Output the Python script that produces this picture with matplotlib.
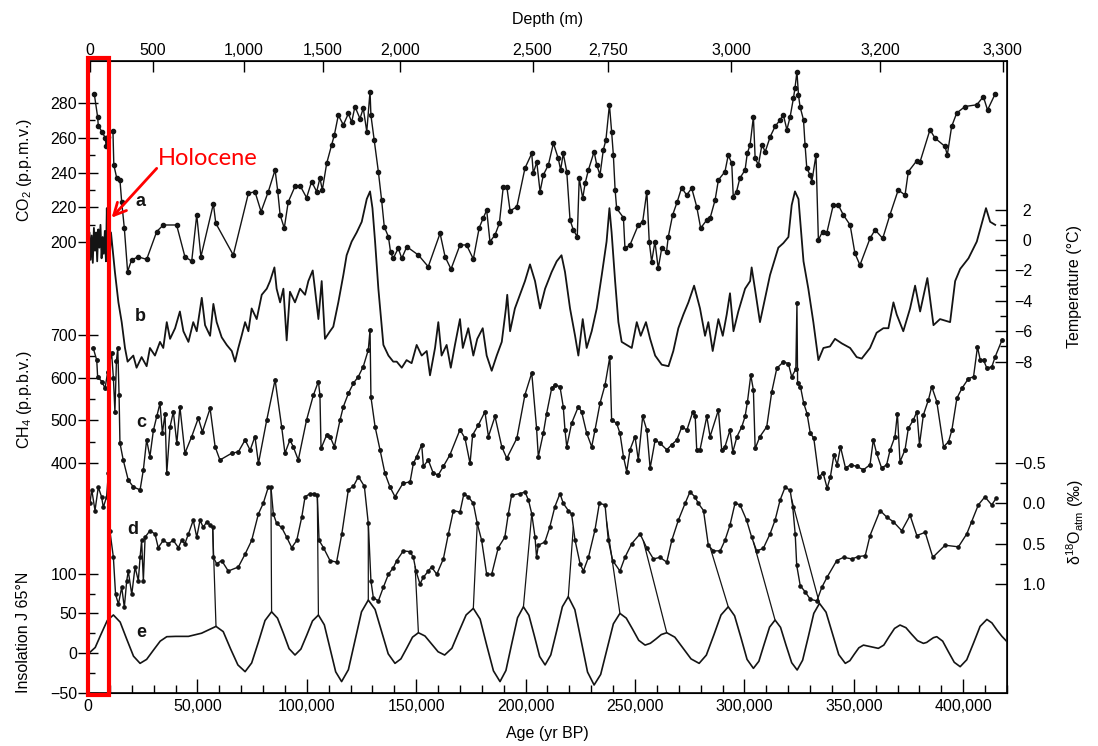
import matplotlib.pyplot as plt
import numpy as np
import matplotlib.transforms as mtransforms
from matplotlib.patches import Rectangle, ConnectionPatch
from matplotlib.ticker import FixedLocator, MultipleLocator, FuncFormatter

plt.rcParams['font.family'] = ['Liberation Sans', 'DejaVu Sans']
plt.rcParams['mathtext.fontset'] = 'custom'
plt.rcParams['mathtext.rm'] = 'Liberation Sans'
plt.rcParams['mathtext.it'] = 'Liberation Sans:italic'

# ############################ DATA ############################
# (age in kyr BP, value)

# a: CO2 (p.p.m.v.)
co2 = np.array([
    (2.9, 285), (4.4, 272), (4.7, 267), (6.3, 263.6), (7.9, 260), (8.3, 255), (9.0, 260.7),
    (11.4, 264), (11.8, 244.4), (13.1, 237), (14.6, 235.7), (15.4, 223), (16.6, 208),
    (18.1, 183), (19.9, 189.6), (22.9, 191.5), (26.8, 190), (31.4, 206), (34.4, 209.8),
    (40.5, 209.8), (44.3, 191.5), (47.4, 189), (49.7, 215.6), (51.6, 191.5), (57.3, 222),
    (58.4, 210.8), (66.4, 192.5), (73.3, 228), (76.3, 229), (79.1, 217.5), (82.4, 229),
    (85.5, 241.5), (86.7, 229.4), (87.8, 215.6), (89.7, 208), (91.5, 223), (94.6, 232),
    (96.9, 232.5), (99.9, 225.5), (102.2, 234.8), (104.5, 229), (106.0, 236.7), (107.1, 230),
    (109.1, 245.4), (111.4, 256), (112.6, 261.7), (114.4, 273), (116.7, 267.4), (119.0, 274),
    (120.5, 269), (122.0, 278), (124.3, 271), (125.8, 277), (127.4, 263.6), (128.9, 286.6),
    (129.3, 273), (130.8, 258.8), (132.7, 240.5), (134.2, 224), (135.4, 208.8), (137.3, 203),
    (138.3, 194), (139.5, 190.6), (141.8, 196.4), (143.4, 190.6), (145.7, 197.3), (151.0, 192.5),
    (155.5, 185.8), (160.9, 205), (163.2, 191.5), (165.9, 184.4), (170.0, 198.3), (173.0, 198.3),
    (176.1, 190.2), (178.8, 208.3), (180.6, 213.6), (182.2, 218.4), (183.7, 200.2), (186.0, 204),
    (188.0, 210.8), (189.8, 231.9), (191.4, 231.9), (192.9, 217.9), (196.0, 220.3), (199.7, 242.5),
    (202.8, 251), (203.5, 239.6), (205.1, 246), (206.6, 229), (208.1, 238.6), (210.4, 244.4),
    (212.7, 256.9), (214.9, 248.2), (216.0, 241.5), (217.2, 251), (218.8, 240.5), (220.3, 212.7),
    (221.8, 207), (223.6, 203), (224.5, 236.7), (226.1, 225.2), (227.2, 233.8), (228.7, 241.5),
    (231.3, 252), (232.5, 244.4), (234.0, 238.6), (235.5, 253), (236.7, 258.8), (238.3, 279),
    (239.3, 263.6), (240.1, 250), (240.9, 230), (241.6, 219.4), (244.7, 214), (245.4, 196.4),
    (247.7, 198.3), (251.5, 209.8), (253.5, 211.7), (255.4, 229), (256.5, 200.2), (257.6, 188.6),
    (259.1, 200.2), (260.6, 184.8), (262.2, 196.4), (264.4, 194.4), (265.2, 203), (267.2, 215.6),
    (269.3, 223.2), (271.3, 231.3), (273.6, 227), (275.9, 231), (278.2, 220.3), (280.0, 208),
    (282.8, 212.7), (284.3, 213.7), (286.6, 224.2), (288.1, 235.7), (291.1, 240.5), (292.6, 250),
    (294.2, 245.4), (294.9, 226), (296.4, 229), (297.9, 236.7), (300.3, 241.5), (301.3, 251),
    (302.6, 256), (304.1, 272.2), (304.9, 248.2), (306.4, 244.4), (308.0, 256), (309.5, 252),
    (311.8, 260.7), (314.0, 266.5), (316.3, 270.3), (317.8, 273.2), (319.4, 264.6), (320.9, 272.2),
    (322.4, 282.8), (323.1, 288.6), (324.0, 298), (324.7, 284.7), (325.4, 278), (327.0, 270.3),
    (327.7, 256), (328.5, 242.5), (330.0, 238.6), (330.8, 234.8), (332.7, 250), (333.8, 201.2),
    (335.7, 206), (337.6, 205), (340.6, 221.3), (342.9, 221.3), (345.2, 215.6), (348.3, 209.8),
    (350.5, 193.5), (352.8, 186.7), (357.4, 202.1), (359.7, 207), (363.2, 202.1), (366.5, 215.6),
    (370.3, 230), (373.4, 227), (374.9, 240.5), (378.7, 246.7), (380.3, 246.3), (384.8, 264.6),
    (387.1, 259.8), (391.7, 255), (392.7, 250), (394.7, 266.5), (397.0, 274.2), (400.8, 278),
    (406.2, 279), (409.2, 283.7), (411.1, 276), (414.5, 285),
])

# b: temperature (deg C)
temperature = np.array([
    (0.2, -0.9), (0.7, 0.5), (1.2, -1.3), (1.7, 0.3), (2.2, -1.5), (2.7, 0.8), (3.2, -0.7),
    (3.7, 0.5), (4.2, -1.4), (4.7, 0.7), (5.2, -0.5), (5.7, 1.0), (6.2, -1.2), (6.7, 0.2),
    (7.2, -0.9), (7.7, 0.6), (8.2, -1.4), (8.6, 2.1), (9.0, -1.1), (9.5, 0.3), (10.0, -1.0),
    (10.5, 0.5), (12.3, -2.1), (13.9, -4.1), (15.4, -5.4), (16.9, -7.1), (18.1, -8.0),
    (20.7, -7.6), (22.2, -8.4), (24.5, -7.7), (26.8, -8.3), (28.3, -7.1), (30.6, -7.6),
    (32.9, -6.7), (34.4, -7.1), (36.0, -5.4), (37.5, -6.5), (39.8, -5.8), (42.0, -4.7),
    (43.6, -6.0), (45.9, -6.7), (48.1, -5.4), (49.7, -6.0), (52.0, -3.8), (53.5, -5.6),
    (55.8, -6.3), (57.3, -4.2), (58.8, -5.4), (61.1, -6.4), (63.4, -6.9), (65.7, -7.3),
    (67.2, -8.0), (68.7, -7.1), (70.2, -6.3), (71.8, -5.4), (73.3, -6.0), (74.8, -4.5),
    (77.1, -5.2), (79.4, -3.6), (81.7, -3.2), (83.2, -2.7), (85.2, -1.8), (86.2, -3.2),
    (87.8, -4.1), (89.3, -3.2), (90.8, -6.6), (92.3, -3.4), (94.6, -4.1), (96.9, -3.2),
    (99.2, -3.6), (100.7, -2.7), (102.7, -2.0), (103.7, -3.2), (105.3, -5.2), (106.8, -2.7),
    (108.3, -6.5), (110.6, -6.0), (112.1, -5.7), (114.4, -4.1), (116.7, -2.3), (118.2, -1.0),
    (120.5, -0.1), (122.8, 0.5), (125.1, 1.2), (127.4, 2.7), (128.9, 3.2), (130.0, 2.1),
    (131.2, -0.1), (132.7, -3.2), (135.0, -6.9), (137.3, -7.6), (139.5, -8.0), (141.1, -8.0),
    (143.4, -8.4), (145.6, -7.9), (147.9, -8.1), (150.2, -6.9), (152.5, -7.6), (154.8, -7.3),
    (156.3, -8.9), (158.6, -7.1), (160.1, -5.4), (161.6, -7.6), (163.9, -6.9), (165.8, -8.4),
    (167.7, -6.9), (170.0, -5.2), (171.3, -7.1), (173.8, -5.8), (176.1, -7.6), (177.9, -6.5),
    (180.4, -5.8), (182.2, -7.6), (184.5, -8.6), (186.8, -7.6), (189.1, -6.7), (191.0, -4.5),
    (191.6, -3.6), (192.9, -6.0), (195.1, -4.5), (197.4, -3.6), (199.7, -2.7), (202.0, -1.6),
    (204.3, -2.7), (206.6, -4.5), (208.9, -3.2), (211.9, -2.1), (214.2, -1.4), (216.4, -1.0),
    (218.0, -2.1), (220.3, -4.5), (222.6, -6.3), (224.1, -7.6), (226.1, -5.2), (227.9, -7.1),
    (230.2, -6.0), (232.5, -4.5), (234.8, -2.3), (237.0, -0.1), (238.3, 2.1), (239.3, 0.5),
    (240.9, -2.7), (242.4, -5.4), (243.9, -6.7), (246.2, -6.9), (248.5, -7.1), (250.8, -5.4),
    (252.6, -6.3), (255.0, -5.4), (256.9, -6.5), (259.2, -7.6), (262.2, -8.2), (265.3, -8.3),
    (267.5, -7.3), (269.8, -5.8), (272.1, -4.9), (274.4, -4.1), (277.0, -3.0), (279.7, -4.5),
    (282.0, -6.3), (283.5, -5.4), (285.5, -7.3), (288.1, -5.2), (290.1, -6.3), (291.9, -4.9),
    (293.4, -3.5), (295.0, -6.0), (297.2, -4.7), (300.3, -3.2), (302.6, -2.7), (303.3, -1.8),
    (304.8, -3.2), (307.1, -5.4), (311.7, -2.3), (315.5, -0.5), (317.8, -0.2), (320.1, 0.2),
    (321.6, 2.3), (323.1, 3.2), (324.7, 2.7), (327.0, -1.4), (329.2, -3.2), (331.5, -5.4),
    (333.8, -7.9), (336.1, -7.1), (339.1, -7.0), (341.4, -6.5), (344.5, -6.8), (348.3, -7.1),
    (351.3, -7.7), (353.6, -7.8), (357.4, -7.1), (360.4, -6.1), (363.5, -5.8), (365.8, -5.8),
    (368.1, -4.1), (369.6, -4.9), (372.6, -6.0), (375.7, -4.5), (378.0, -3.0), (380.3, -4.7),
    (383.6, -2.5), (386.4, -5.6), (389.4, -5.2), (394.0, -5.4), (396.3, -2.7), (398.6, -1.9),
    (402.4, -1.2), (406.2, -0.1), (410.4, 2.1), (412.3, 1.2), (414.6, 1.0),
])

# c: CH4 (p.p.b.v.)
ch4 = np.array([
    (2.4, 669), (4.0, 641), (4.4, 602), (6.3, 591), (7.8, 575), (9.0, 614), (10.8, 657),
    (11.6, 600), (12.3, 520), (13.0, 640), (13.6, 669), (14.2, 560), (14.6, 447), (16.1, 407),
    (18.4, 360), (20.7, 344), (23.8, 337), (25.3, 384), (26.8, 454), (28.3, 415), (29.9, 477),
    (31.4, 509), (32.9, 540), (34.0, 470), (35.2, 516), (36.0, 376), (37.5, 485), (39.0, 520),
    (40.6, 446), (42.0, 532), (44.3, 423), (47.4, 462), (50.4, 505), (52.3, 473), (55.8, 528),
    (58.1, 438), (60.3, 407), (65.7, 423), (68.7, 426), (71.8, 454), (74.1, 430), (76.3, 462),
    (77.9, 399), (81.7, 501), (85.5, 595), (88.5, 485), (90.0, 423), (92.3, 454), (93.8, 438),
    (96.1, 407), (99.9, 501), (103.0, 559), (105.3, 591), (106.0, 559), (106.5, 434),
    (109.1, 466), (110.6, 462), (112.6, 438), (115.2, 501), (116.7, 532), (119.0, 563),
    (121.3, 587), (123.5, 602), (125.8, 626), (128.1, 665), (128.9, 712), (129.3, 555),
    (131.2, 485), (133.5, 430), (135.7, 376), (138.0, 344), (140.3, 321), (143.9, 352),
    (147.2, 356), (148.7, 399), (150.2, 415), (152.5, 443), (153.3, 392), (155.5, 407),
    (157.8, 376), (160.1, 372), (162.4, 392), (165.4, 419), (170.0, 478), (172.3, 458),
    (174.6, 399), (175.8, 466), (178.4, 489), (181.4, 520), (183.0, 462), (186.0, 509),
    (189.1, 438), (191.4, 411), (196.0, 458), (199.7, 560), (202.8, 611), (205.0, 482),
    (205.8, 415), (208.1, 470), (209.6, 516), (211.9, 575), (213.4, 583), (215.7, 579),
    (217.2, 532), (218.0, 477), (218.8, 438), (221.0, 493), (224.1, 532), (225.6, 520),
    (227.9, 470), (230.2, 438), (231.7, 477), (234.0, 540), (236.3, 583), (238.5, 649),
    (239.3, 501), (241.6, 493), (243.1, 470), (244.7, 415), (246.2, 380), (247.7, 431),
    (250.0, 462), (251.5, 407), (253.5, 509), (255.4, 477), (256.9, 388), (259.2, 454),
    (261.5, 446), (264.5, 431), (266.8, 443), (269.1, 454), (271.4, 485), (273.7, 477),
    (276.4, 520), (277.5, 509), (278.2, 431), (279.7, 431), (282.8, 509), (284.3, 462),
    (288.1, 524), (289.6, 431), (291.1, 438), (293.4, 477), (294.7, 426), (296.6, 462),
    (298.8, 485), (300.3, 509), (301.4, 544), (302.9, 606), (304.1, 571), (304.9, 434),
    (307.1, 462), (310.2, 485), (312.5, 567), (314.8, 622), (317.8, 637), (320.1, 633),
    (321.6, 602), (323.5, 620), (324.0, 774), (324.3, 587), (325.6, 579), (327.1, 540),
    (328.6, 516), (330.1, 470), (331.7, 458), (334.0, 368), (336.0, 376), (337.8, 341),
    (339.3, 368), (340.9, 419), (342.4, 396), (343.9, 438), (346.2, 388), (348.5, 396),
    (351.3, 392), (354.4, 384), (357.4, 396), (358.9, 454), (360.4, 423), (362.7, 388),
    (365.0, 396), (366.6, 431), (368.8, 462), (369.9, 516), (371.1, 403), (373.4, 431),
    (374.9, 481), (377.2, 501), (378.8, 520), (380.0, 443), (381.8, 513), (384.1, 548),
    (385.6, 579), (387.9, 544), (391.0, 438), (393.3, 450), (394.8, 477), (397.1, 552),
    (399.4, 575), (402.4, 598), (404.7, 602), (406.5, 672), (407.8, 641), (409.3, 641),
    (410.8, 622), (413.1, 626), (414.6, 649), (417.7, 688),
])

# d: delta 18O of atmospheric O2 (per mil)
d18o = np.array([
    (0.9, 0.0), (1.7, -0.17), (3.2, 0.09), (4.7, -0.2), (6.2, -0.08), (7.0, 0.05), (8.5, -0.08),
    (9.3, -0.37), (10.0, 0.34), (11.6, 0.67), (12.6, 1.13), (13.9, 1.25), (15.4, 1.04),
    (16.6, 1.29), (17.7, 0.96), (18.4, 0.84), (20.0, 1.13), (21.5, 0.79), (23.0, 0.96),
    (23.8, 0.67), (24.5, 0.46), (25.3, 0.96), (26.1, 0.42), (28.3, 0.34), (30.6, 0.38),
    (32.1, 0.55), (34.4, 0.46), (36.7, 0.5), (39.0, 0.46), (41.3, 0.55), (42.8, 0.46),
    (44.3, 0.5), (45.9, 0.38), (48.1, 0.21), (49.7, 0.42), (51.2, 0.21), (52.7, 0.3),
    (54.2, 0.23), (55.8, 0.27), (57.0, 0.3), (57.3, 0.67), (58.8, 0.75), (61.1, 0.71),
    (64.1, 0.84), (68.7, 0.79), (71.8, 0.63), (74.8, 0.46), (77.9, 0.13), (80.1, 0.0),
    (82.4, -0.2), (83.6, -0.2), (84.7, 0.13), (86.2, 0.25), (88.5, 0.3), (90.8, 0.42),
    (93.1, 0.55), (95.4, 0.46), (97.7, 0.17), (99.2, -0.08), (101.5, -0.12), (103.4, -0.12),
    (104.8, -0.1), (105.6, 0.46), (107.6, 0.55), (110.6, 0.71), (113.6, 0.73), (116.0, 0.38),
    (119.0, -0.17), (121.3, -0.21), (123.6, -0.33), (126.3, -0.21), (128.1, 0.25), (129.3, 0.96),
    (130.4, 1.17), (132.7, 1.21), (135.0, 1.04), (137.3, 0.88), (139.5, 0.8), (141.1, 0.71),
    (144.1, 0.59), (147.2, 0.6), (148.7, 0.67), (149.9, 0.84), (151.7, 1.0), (153.2, 0.92),
    (155.5, 0.84), (157.0, 0.79), (159.4, 0.88), (162.4, 0.69), (164.7, 0.38), (167.0, 0.09),
    (170.0, 0.11), (171.8, -0.12), (173.8, -0.08), (176.1, 0.0), (177.9, 0.25), (179.9, 0.46),
    (182.2, 0.88), (184.5, 0.88), (187.5, 0.55), (190.5, 0.42), (192.1, 0.13), (193.6, -0.1),
    (197.4, -0.12), (199.7, -0.14), (201.3, -0.04), (202.8, 0.13), (204.3, 0.42), (205.0, 0.67),
    (205.8, 0.52), (208.8, 0.48), (211.1, 0.29), (213.4, 0.04), (215.7, -0.12), (217.2, 0.0),
    (219.5, 0.09), (221.0, 0.13), (222.6, 0.46), (224.9, 0.75), (226.4, 0.84), (228.7, 0.67),
    (231.7, 0.33), (233.7, 0.0), (236.3, 0.02), (237.8, 0.46), (239.8, 0.71), (243.1, 0.84),
    (245.4, 0.67), (248.5, 0.5), (252.3, 0.38), (255.3, 0.55), (258.4, 0.69), (261.4, 0.67),
    (264.5, 0.73), (266.8, 0.46), (269.8, 0.21), (272.9, 0.0), (275.1, -0.14), (277.4, -0.08),
    (278.9, 0.0), (281.3, 0.09), (283.5, 0.52), (285.8, 0.59), (288.9, 0.59), (291.1, 0.46),
    (293.4, 0.27), (295.7, 0.0), (298.0, 0.02), (301.0, 0.21), (303.3, 0.42), (305.6, 0.59),
    (308.6, 0.56), (311.7, 0.38), (314.0, 0.21), (316.3, -0.04), (318.6, -0.2), (320.9, -0.16),
    (322.1, 0.05), (323.2, 0.38), (323.9, 0.77), (325.5, 1.02), (327.8, 1.1), (330.1, 1.19),
    (333.1, 1.21), (335.4, 1.04), (337.7, 0.92), (342.2, 0.71), (345.3, 0.67), (349.1, 0.69),
    (352.1, 0.66), (355.2, 0.65), (357.4, 0.40), (362.0, 0.09), (365.0, 0.17), (368.1, 0.23),
    (371.9, 0.34), (375.7, 0.15), (378.8, 0.40), (382.6, 0.36), (386.1, 0.67), (391.7, 0.52),
    (397.8, 0.54), (401.6, 0.38), (403.8, 0.23), (406.9, 0.02), (409.9, -0.08), (413.0, 0.02),
    (415.0, -0.06),
])

# e: insolation mid-July 65N (W m-2, anomaly)
insolation = np.array([
    (0.5, 0), (3.3, 7), (6.0, 24), (8.8, 41), (11.6, 48), (14.7, 39), (17.7, 17.5), (20.8, -4),
    (23.8, -13), (26.8, -8), (30.0, 4), (33.0, 15), (36.0, 20.6), (40.0, 21), (45.9, 21),
    (51.9, 25), (55.0, 29), (58.5, 33.6), (61.8, 27), (65.2, 5), (68.5, -15), (71.8, -23.5),
    (74.8, -12.5), (77.9, 14), (80.9, 41), (83.9, 52), (86.6, 44), (89.3, 25), (91.9, 5.5),
    (94.6, -2.5), (97.3, 5), (100.0, 22.7), (102.6, 40.5), (105.3, 47.9), (108.0, 35.6),
    (110.6, 6), (113.2, -23.7), (115.9, -36), (119.0, -21), (122.0, 15.4), (125.0, 52),
    (128.1, 66.8), (131.2, 55), (134.2, 27), (137.2, -1), (140.3, -13), (143.0, -7.4),
    (145.7, 6.3), (148.3, 20), (151.0, 25.6), (154.0, 21.5), (157.0, 11.5), (160.0, 1.6),
    (163.0, -2.5), (166.3, 6), (169.5, 27), (172.8, 48), (176.1, 56.3), (179.2, 42.8),
    (182.2, 10), (185.3, -22.5), (188.3, -36), (191.0, -22), (193.6, 11), (196.3, 44.5),
    (199.0, 58.3), (201.5, 47.6), (204.0, 21.6), (206.4, -4.3), (208.9, -15), (211.5, -2.4),
    (214.2, 28), (216.8, 58.4), (219.5, 71), (222.5, 54.7), (225.4, 15.3), (228.3, -24),
    (231.3, -40.3), (234.3, -27), (237.2, 5), (240.1, 36.8), (243.1, 50), (246.0, 44),
    (248.9, 30), (251.7, 16), (254.6, 10), (257.0, 12.3), (259.6, 17.8), (262.0, 23.3),
    (264.5, 25.6), (268.2, 20), (271.9, 6.3), (275.6, -7.4), (279.3, -13), (282.6, -2.6),
    (286.0, 22.6), (289.3, 48), (292.6, 58.3), (295.5, 47), (298.4, 19.5), (301.2, -8),
    (304.1, -19.3), (306.6, -10.4), (309.0, 11), (311.5, 32.7), (314.0, 41.6), (316.5, 32.4),
    (319.0, 10), (321.6, -12.2), (324.1, -21.4), (326.6, -9), (329.2, 20.6), (331.7, 50),
    (334.3, 62.6), (337.3, 51.5), (340.2, 24.8), (343.1, -2), (346.1, -13), (348.2, -9.6),
    (350.2, -1.5), (352.3, 6.6), (354.4, 10), (357.8, 8), (361.2, 5.9), (363.7, 10),
    (366.1, 20.6), (368.6, 31), (371.1, 35.3), (373.8, 32), (376.4, 23.7), (379.1, 15.6),
    (381.8, 12.2), (383.3, 13.4), (384.8, 16.4), (386.4, 19.4), (387.9, 20.6), (390.6, 15),
    (393.2, 1.7), (395.9, -11.7), (398.6, -17.2), (401.6, -8.5), (404.7, 12.6), (407.7, 33.6),
    (410.8, 42.4), (413.1, 38), (415.4, 29), (417.7, 21), (420.0, 14.3),
])

# tie lines between d18O events and insolation maxima (kyr on d, kyr on e)
link_d18o_age = [57.0, 83.6, 104.8, 128.1, 149.5, 177.9, 202.8, 221.8, 237.0, 253.8, 284.3, 304.1, 321.5]
link_insol_age = [58.5, 83.9, 105.3, 128.1, 151.0, 176.1, 199.0, 219.5, 243.1, 264.5, 292.6, 314.0, 334.3]

# top axis: depth (m) and the age it sits at (kyr)
depth_m = [0, 500, 1000, 1500, 2000, 2500, 2750, 3000, 3200, 3300]
depth_age = [0.7, 29.5, 71.1, 107.2, 142.6, 203.2, 237.7, 293.9, 362.0, 418.0]

# ############################ FIGURE ############################
W, H = 1098, 746
fig = plt.figure(figsize=(W / 100, H / 100), dpi=100)
rect = [88 / W, 1 - 693 / H, 919 / W, 632 / H]
INK = '#141414'
TICK_FS = 11.5

ax = fig.add_axes(rect)
ax.set_xlim(0, 420000)
ax.set_ylim(0, 1)
ax.yaxis.set_visible(False)
for s in ax.spines.values():
    s.set_linewidth(1.2)
ax.xaxis.set_major_locator(MultipleLocator(50000))
ax.xaxis.set_minor_locator(MultipleLocator(10000))
ax.xaxis.set_major_formatter(FuncFormatter(lambda v, p: f'{int(v):,}'))
ax.tick_params(axis='x', which='major', direction='in', length=10, width=1.0, labelsize=TICK_FS, pad=4)
ax.tick_params(axis='x', which='minor', direction='in', length=6, width=1.0)
ax.set_xlabel('Age (yr BP)', fontsize=TICK_FS, labelpad=9)

top = ax.twiny()
top.set_xlim(0, 420000)
top.set_xticks(np.array(depth_age) * 1000)
top.set_xticklabels([f'{d:,}' for d in depth_m])
top.tick_params(axis='x', direction='in', length=8, width=1.0, labelsize=TICK_FS, pad=2)
top.set_xlabel('Depth (m)', fontsize=TICK_FS, labelpad=14)
top.yaxis.set_visible(False)


def series_axes(ylim, side):
    a = fig.add_axes(rect)
    a.set_xlim(0, 420000)
    a.set_ylim(*ylim)
    a.patch.set_visible(False)
    for s in a.spines.values():
        s.set_visible(False)
    a.xaxis.set_visible(False)
    a.yaxis.set_ticks_position(side)
    if side == 'left':
        a.tick_params(axis='y', which='major', direction='inout', length=14, width=1.0,
                      labelsize=TICK_FS, pad=1)
    else:
        a.tick_params(axis='y', which='major', direction='in', length=9, width=1.0,
                      labelsize=TICK_FS, pad=5)
    a.tick_params(axis='y', which='minor', direction='in', length=5, width=1.0)
    return a


def right_label(v, p):
    # digits line up after the minus sign as in the original
    return ('\u2212' if v < 0 else '\u2007') + f'{abs(v):g}'


# ### a: CO2 ###
ax_co2 = series_axes((-59.6, 304.2), 'left')
ax_co2.yaxis.set_major_locator(FixedLocator([200, 220, 240, 260, 280]))
ax_co2.yaxis.set_minor_locator(FixedLocator([210, 230, 250, 270]))
ax_co2.plot(co2[:, 0] * 1000, co2[:, 1], color=INK, lw=1.0, marker='o', ms=3)

# ### b: temperature ###
ax_t = series_axes((-29.8, 11.78), 'right')
ax_t.yaxis.set_major_locator(FixedLocator([2, 0, -2, -4, -6, -8]))
ax_t.yaxis.set_minor_locator(FixedLocator([1, -1, -3, -5, -7]))
ax_t.yaxis.set_major_formatter(FuncFormatter(right_label))
ax_t.plot(temperature[:, 0] * 1000, temperature[:, 1], color=INK, lw=1.3)

# ### c: CH4 ###
ax_ch4 = series_axes((-139.1, 1342.2), 'left')
ax_ch4.yaxis.set_major_locator(FixedLocator([400, 500, 600, 700]))
ax_ch4.yaxis.set_minor_locator(FixedLocator([450, 550, 650]))
ax_ch4.plot(ch4[:, 0] * 1000, ch4[:, 1], color=INK, lw=1.0, marker='o', ms=2.5)

# ### d: d18O atm (inverted) ###
ax_d = series_axes((2.352, -5.483), 'right')
ax_d.yaxis.set_major_locator(FixedLocator([-0.5, 0.0, 0.5, 1.0]))
ax_d.yaxis.set_minor_locator(FixedLocator([-0.25, 0.25, 0.75]))
ax_d.yaxis.set_major_formatter(FuncFormatter(lambda v, p: ('\u2212' if v < 0 else '\u2007') + f'{abs(v):.1f}'))
ax_d.plot(d18o[:, 0] * 1000, d18o[:, 1], color=INK, lw=1.0, marker='o', ms=2.3)

# ### e: insolation ###
ax_e = series_axes((-50.4, 746.6), 'left')
ax_e.yaxis.set_major_locator(FixedLocator([-50, 0, 50, 100]))
ax_e.yaxis.set_minor_locator(FixedLocator([-25, 25, 75]))
ax_e.plot(insolation[:, 0] * 1000, insolation[:, 1], color=INK, lw=1.2)

# tie lines d -> e
for da, ea in zip(link_d18o_age, link_insol_age):
    dv = np.interp(da, d18o[:, 0], d18o[:, 1])
    ev = np.interp(ea, insolation[:, 0], insolation[:, 1])
    con = ConnectionPatch(xyA=(da * 1000, dv), coordsA=ax_d.transData,
                          xyB=(ea * 1000, ev), coordsB=ax_e.transData,
                          color=INK, lw=0.9)
    fig.add_artist(con)

# curve letters
bold = dict(fontsize=13, fontweight='bold', ha='center', va='center', color=INK)
ax_co2.text(24200, 223.6, 'a', **bold)
ax_t.text(23800, -5.0, 'b', **bold)
ax_ch4.text(24500, 494, 'c', **bold)
ax_d.text(20600, 0.33, 'd', **bold)
ax_e.text(24200, 25.6, 'e', **bold)

# axis titles
fs = 11.5
fig.text(24 / W, 1 - 170 / H, 'CO$_2$ (p.p.m.v.)', rotation=90, ha='center', va='center', fontsize=fs)
fig.text(24 / W, 1 - 400 / H, 'CH$_4$ (p.p.b.v.)', rotation=90, ha='center', va='center', fontsize=fs)
fig.text(24 / W, 1 - 632 / H, 'Insolation J 65\u00b0N', rotation=90, ha='center', va='center', fontsize=fs)
fig.text(1075 / W, 1 - 286 / H, 'Temperature (\u00b0C)', rotation=90, ha='center', va='center', fontsize=fs)
fig.text(1075 / W, 1 - 522 / H, '\u03b4$^{18}$O$_{\\mathrm{atm}}$ (\u2030)', rotation=90,
         ha='center', va='center', fontsize=fs)

# ### Holocene highlight ###
trans = mtransforms.blended_transform_factory(ax_e.transData, ax_e.transAxes)
ax_e.add_patch(Rectangle((0, -0.003), 9800, 1.0075, transform=trans, fill=False,
                         edgecolor='red', lw=3, clip_on=False, zorder=20))
ax_co2.annotate('', xy=(10800, 214), xytext=(31400, 242.4),
                arrowprops=dict(arrowstyle='->', color='red', lw=2, mutation_scale=22,
                                shrinkA=0, shrinkB=0))
ax_co2.text(31900, 248.2, 'Holocene', color='red', fontsize=17, family='Lato',
            ha='left', va='center')

fig.savefig('out.png', dpi=100)
